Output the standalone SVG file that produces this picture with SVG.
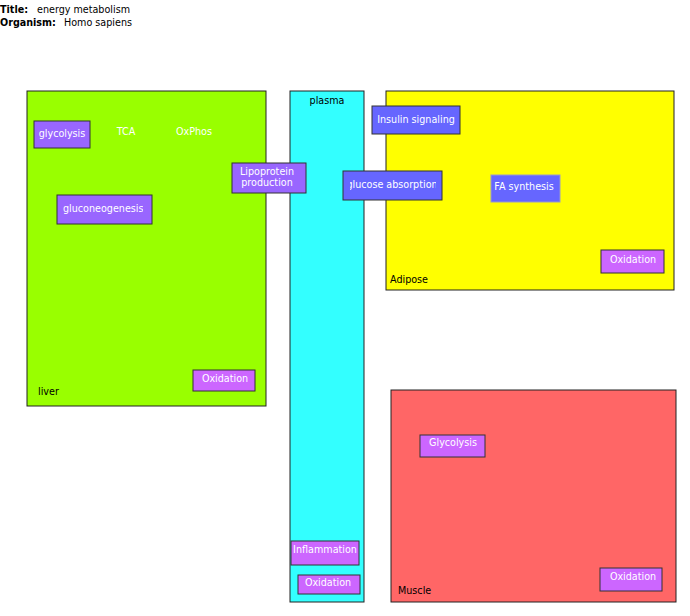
<svg xmlns="http://www.w3.org/2000/svg" width="690" height="616" viewBox="0 0 690 616">
<style>
text{font-family:"DejaVu Sans",sans-serif;font-size:9.6px}
.b{font-weight:bold}
.comp{stroke:#222;stroke-width:1}
.n{stroke:#333;stroke-width:1}
.p{fill:#9966ff}
.m{fill:#cc66ff}
.u{fill:#6666ff}
.w{fill:#ffffff;text-anchor:middle}
.k{fill:#000}
</style>
<rect width="690" height="616" fill="#fff"/>
<g id="header">
<text x="0" y="13" class="b">Title:</text><text x="37" y="13">energy metabolism</text>
<text x="0" y="26" class="b">Organism:</text><text x="64" y="26">Homo sapiens</text>
</g>
<g id="liver"><rect class="comp" x="27" y="91" width="239" height="315" fill="#99ff00"/><text x="38" y="395" class="k">liver</text></g>
<g id="plasma"><rect class="comp" x="290" y="91" width="74" height="511" fill="#33ffff"/><text x="327" y="104" class="k" text-anchor="middle">plasma</text></g>
<g id="adipose"><rect class="comp" x="386" y="91" width="288" height="199" fill="#ffff00"/><text x="390" y="283" class="k">Adipose</text></g>
<g id="muscle"><rect class="comp" x="391" y="390" width="285" height="212" fill="#ff6666"/><text x="398" y="594" class="k">Muscle</text></g>
<g id="connectors"></g>
<defs><clipPath id="cg"><rect x="350" y="172" width="86" height="27"/></clipPath><clipPath id="cgl"><rect x="60" y="196" width="83" height="27"/></clipPath></defs>
<g id="glycolysis"><rect class="n p" x="34" y="121" width="56" height="27"/><text class="w" x="62" y="137">glycolysis</text></g>
<g id="tca"><text class="w" x="126" y="135">TCA</text></g>
<g id="oxphos"><text class="w" x="194" y="135">OxPhos</text></g>
<g id="gluconeogenesis"><rect class="n p" x="57" y="195" width="95" height="29"/><text x="63" y="212" fill="#fff" clip-path="url(#cgl)">gluconeogenesis</text></g>
<g id="lipoprotein"><rect class="n p" x="232" y="163" width="74" height="30"/><text class="w" x="267" y="175">Lipoprotein</text><text class="w" x="267" y="186">production</text></g>
<g id="insulin"><rect class="n u" x="372" y="106" width="88" height="28"/><text class="w" x="416" y="123">Insulin signaling</text></g>
<g id="glucose"><rect class="n u" x="343" y="171" width="99" height="29"/><text class="w" x="392" y="188" clip-path="url(#cg)">glucose absorption</text></g>
<g id="fa"><rect x="491" y="175" width="69" height="27" fill="#6666ff" stroke="#9999cc"/><text class="w" x="524" y="190">FA synthesis</text></g>
<g id="ox-adipose"><rect class="n m" x="601" y="250" width="63" height="23"/><text class="w" x="633" y="263">Oxidation</text></g>
<g id="ox-liver"><rect class="n m" x="193" y="370" width="62" height="21"/><text class="w" x="225" y="382">Oxidation</text></g>
<g id="inflammation"><rect class="n m" x="291" y="541" width="68" height="24"/><text class="w" x="325" y="553">Inflammation</text></g>
<g id="ox-plasma"><rect class="n m" x="298" y="575" width="62" height="19"/><text class="w" x="328" y="586">Oxidation</text></g>
<g id="glycolysis-muscle"><rect class="n m" x="420" y="435" width="65" height="22"/><text class="w" x="453" y="446">Glycolysis</text></g>
<g id="ox-muscle"><rect class="n m" x="600" y="568" width="62" height="23"/><text class="w" x="633" y="580">Oxidation</text></g>
</svg>
